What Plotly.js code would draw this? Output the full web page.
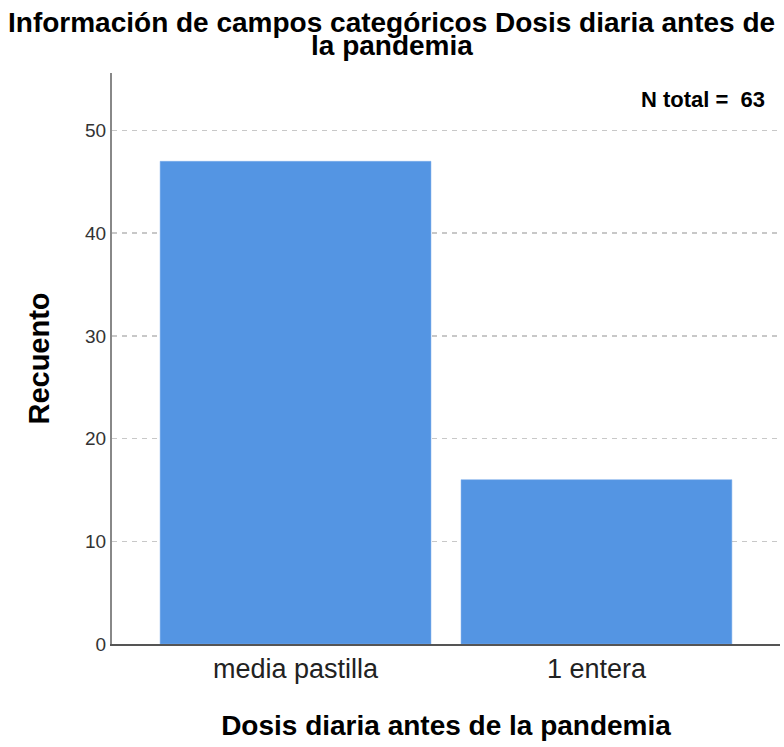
<!DOCTYPE html>
<html>
<head>
<meta charset="utf-8">
<script src="https://cdn.plot.ly/plotly-3.0.1.min.js"></script>
<style>html,body{margin:0;padding:0;background:#fff;}#chart{width:784px;height:747px;}</style>
</head>
<body>
<div id="chart"></div>
<script>
const categories = ["media pastilla", "1 entera"];
const counts = [47, 16];
const yTicks = [0, 10, 20, 30, 40, 50];
const nTotal = 63;
const titleLines = ["Información de campos categóricos Dosis diaria antes de", "la pandemia"];

const trace = {
  type: "bar",
  x: categories,
  y: counts,
  marker: {color: "rgb(84,149,227)", line: {color: "rgb(120,170,235)", width: 0.5}},
  hoverinfo: "x+y"
};

const FONT = "Liberation Sans, Arial, sans-serif";
const NARROW = "Liberation Sans Narrow, Arial Narrow, Liberation Sans, sans-serif";

const layout = {
  width: 784,
  height: 747,
  margin: {l: 112, r: 4, t: 73, b: 103},
  paper_bgcolor: "#fff",
  plot_bgcolor: "#fff",
  showlegend: false,
  bargap: 0.1,
  font: {family: FONT, color: "#000"},
  xaxis: {
    type: "category",
    range: [-0.61, 1.61],
    showline: true, linecolor: "#555", linewidth: 1.5,
    showgrid: false, zeroline: false,
    ticks: "",
    tickfont: {size: 27, color: "#222"},
    title: {text: "<b>Dosis diaria antes de la pandemia</b>", font: {size: 28, color: "#000"}, standoff: 32}
  },
  yaxis: {
    range: [0, 55.6],
    tickvals: yTicks,
    ticktext: yTicks.map(String),
    showline: true, linecolor: "#888", linewidth: 2,
    showgrid: true, gridcolor: "#c8c8c8", gridwidth: 1.5, griddash: "5px,5px",
    zeroline: false,
    ticks: "",
    tickfont: {size: 19, color: "#333"},
    title: {text: "<b>Recuento</b>", font: {size: 29, color: "#000"}, standoff: 27}
  },
  annotations: [
    {
      xref: "paper", yref: "paper", x: 0.419, y: 1.0884, xanchor: "center", yanchor: "middle",
      text: "<b>" + titleLines[0] + "</b>", showarrow: false,
      font: {size: 28, color: "#000", family: FONT}
    },
    {
      xref: "paper", yref: "paper", x: 0.419, y: 1.0473, xanchor: "center", yanchor: "middle",
      text: "<b>" + titleLines[1] + "</b>", showarrow: false,
      font: {size: 28, color: "#000", family: FONT}
    },
    {
      xref: "paper", yref: "paper", x: 0.9805, y: 0.954, xanchor: "right", yanchor: "middle",
      text: "<b>N total =  " + nTotal + "</b>", showarrow: false,
      font: {size: 22, color: "#000", family: NARROW}
    }
  ]
};

Plotly.newPlot("chart", [trace], layout, {displayModeBar: false, staticPlot: true});
</script>
</body>
</html>
